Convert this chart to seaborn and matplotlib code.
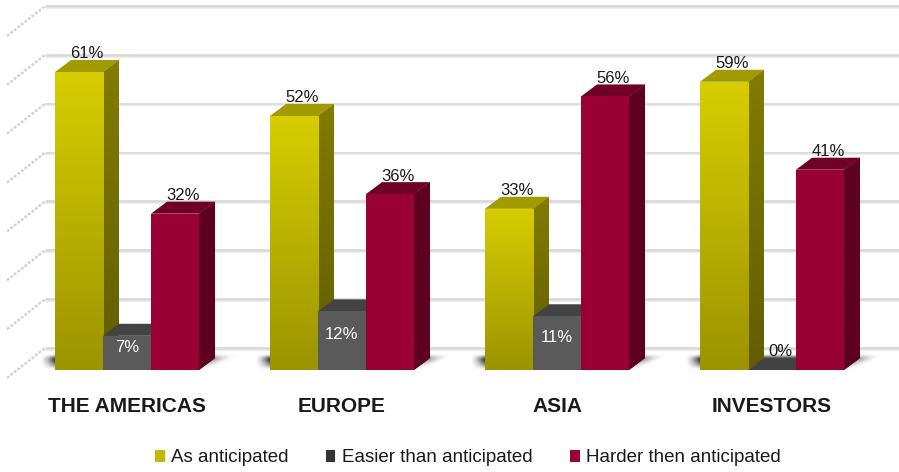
import numpy as np
import pandas as pd
import seaborn as sns
import matplotlib
matplotlib.use("Agg")
import matplotlib.pyplot as plt
from matplotlib.patches import Polygon
from matplotlib.colors import LinearSegmentedColormap

# ---------------- data ----------------
regions = ["THE AMERICAS", "EUROPE", "ASIA", "INVESTORS"]
responses = ["As anticipated", "Easier than anticipated", "Harder then anticipated"]
as_anticipated = [61, 52, 33, 59]
easier = [7, 12, 11, 0]
harder = [32, 36, 56, 41]
grid_values = [0, 10, 20, 30, 40, 50, 60, 70]

df = pd.DataFrame({
    "region": regions * 3,
    "response": np.repeat(responses, len(regions)),
    "value": as_anticipated + easier + harder,
})

# ---------------- style ----------------
sns.set_theme(style="white")
plt.rcParams["font.family"] = ["Liberation Sans", "DejaVu Sans"]

front_cols = ["#c9c100", "#5a5a5a", "#990033"]
front_top = ["#d6ce00", "#5a5a5a", "#990033"]
front_bot = ["#9c9400", "#5a5a5a", "#990033"]
side_top = ["#827c00", "#3a3a3a", "#5e0020"]
side_bot = ["#625d00", "#3a3a3a", "#5e0020"]
top_cols = ["#a19b00", "#434343", "#700026"]
legend_cols = ["#c2ba00", "#333333", "#990033"]

W, H, DPI = 899, 472, 100
PX_X = 215.0          # pixels per category
PX_Y = 4.885          # pixels per percent
X0_PX, Y0_PX = 127.0, 370.0

fig = plt.figure(figsize=(W / DPI, H / DPI), dpi=DPI)
ax = fig.add_axes([0, 0, 1, 1])

sns.barplot(data=df, x="region", y="value", hue="response", order=regions,
            hue_order=responses, palette=front_cols, saturation=1, width=0.67,
            linewidth=0, ax=ax, errorbar=None)

ax.set_xlim(-X0_PX / PX_X, (W - X0_PX) / PX_X)
ax.set_ylim((Y0_PX - H) / PX_Y, Y0_PX / PX_Y)
ax.axis("off")

# depth offsets (data units)
DX = 16 / PX_X
DY = 12 / PX_Y
# wall geometry
WALL_BACK_X = (45 - X0_PX) / PX_X
WALL_BACK_DY = (Y0_PX - 348) / PX_Y
WALL_FRONT_X = (7 - X0_PX) / PX_X
WALL_FRONT_DY = (Y0_PX - 378) / PX_Y
XMAX = ax.get_xlim()[1]

# gridlines on back wall and left wall
for v in grid_values:
    ax.plot([WALL_BACK_X, XMAX], [v + WALL_BACK_DY] * 2, color="#d9d9d9",
            lw=2.0, zorder=1, solid_capstyle="butt")
    ax.plot([WALL_BACK_X, XMAX], [v + WALL_BACK_DY - 0.35] * 2, color="#eeeeee",
            lw=1.0, zorder=1)
    ax.plot([WALL_FRONT_X, WALL_BACK_X], [v + WALL_FRONT_DY, v + WALL_BACK_DY],
            color="#d2d2d2", lw=1.7, zorder=1, linestyle=(0, (1.2, 0.7)))

# shadows under each group
ext_w = 0.67
for i in range(len(regions)):
    gl, gr = i - ext_w / 2, i + ext_w / 2
    xs = np.linspace(gl - 0.12, gr + 0.22, 300)
    ys = np.linspace(-0.3, DY + 0.8, 60)
    XX, YY = np.meshgrid(xs, ys)
    shift = (YY / DY) * DX * 1.6
    left = np.clip((XX - (gl - 0.07)) / 0.07, 0, 1) ** 1.5
    right = np.clip(((gr + 0.05 + shift) - XX) / (0.09 + shift * 0.5 + 1e-9), 0, 1) ** 1.5
    vert = np.clip(YY / (DY * 0.7), 0, 1) * np.clip((DY + 0.6 - YY) / 0.9, 0, 1)
    alpha = 0.8 * left * right * vert
    img = np.zeros(XX.shape + (4,))
    img[..., 3] = alpha
    ax.imshow(img, extent=(xs[0], xs[-1], ys[0], ys[-1]), origin="lower",
              aspect="auto", zorder=1.5, interpolation="bilinear")

# 3D faces
for h, cont in enumerate(ax.containers):
    cmap_f = LinearSegmentedColormap.from_list("f", [front_bot[h], front_top[h]])
    cmap_s = LinearSegmentedColormap.from_list("s", [side_bot[h], side_top[h]])
    for i, rect in enumerate(cont.patches):
        x0, w, val = rect.get_x(), rect.get_width(), rect.get_height()
        zf = 3 + 2 * h + 1
        zs = 3 + 2 * h
        rect.set_zorder(zf)
        # side face
        side = Polygon([(x0 + w, 0), (x0 + w + DX, DY), (x0 + w + DX, val + DY),
                        (x0 + w, val)], closed=True, facecolor=side_top[h],
                       edgecolor="none", zorder=zs)
        ax.add_patch(side)
        if val > 0:
            grad = np.linspace(0, 1, 100).reshape(-1, 1)
            im = ax.imshow(grad, extent=(x0 + w, x0 + w + DX, 0, val + DY),
                           origin="lower", aspect="auto", cmap=cmap_s,
                           zorder=zs + 0.01, interpolation="bilinear")
            im.set_clip_path(side)
        # top face
        top = Polygon([(x0, val), (x0 + w, val), (x0 + w + DX, val + DY),
                       (x0 + DX, val + DY)], closed=True, facecolor=top_cols[h],
                      edgecolor="none", zorder=zs + 0.02)
        ax.add_patch(top)
        # front gradient
        if val > 0 and front_top[h] != front_bot[h]:
            grad = np.linspace(0, 1, 100).reshape(-1, 1)
            im = ax.imshow(grad, extent=(x0, x0 + w, 0, val), origin="lower",
                           aspect="auto", cmap=cmap_f, zorder=zf + 0.01,
                           interpolation="bilinear")
            im.set_clip_path(rect)
        # value labels
        cx = x0 + w / 2
        if h == 1 and val > 3:
            ax.text(cx, val / 2 + 1.2, f"{val:.0f}%", ha="center", va="center",
                    color="white", fontsize=12, zorder=20)
        else:
            ax.text(cx + DX / 2, val + DY - 0.3, f"{val:.0f}%", ha="center",
                    va="bottom", color="#1a1a1a", fontsize=12, zorder=20)

# category labels
for xi, name in zip(ax.get_xticks(), regions):
    ax.text(xi, (Y0_PX - 407) / PX_Y, name, ha="center", va="center",
            fontsize=15, fontweight="bold", color="#1a1a1a")

# legend
handles, labels = ax.get_legend_handles_labels()
if ax.get_legend() is not None:
    ax.get_legend().remove()
leg = fig.legend(handles, labels, loc="center", bbox_to_anchor=(468 / W, 1 - 458 / H),
                 ncol=3, frameon=False, fontsize=13.5, handlelength=0.5,
                 handleheight=0.55, handletextpad=0.35, columnspacing=2.0)
for patch, c in zip(leg.get_patches(), legend_cols):
    patch.set_facecolor(c)
    patch.set_edgecolor("none")
for t in leg.get_texts():
    t.set_color("#1a1a1a")

fig.savefig("out.png", dpi=DPI)
